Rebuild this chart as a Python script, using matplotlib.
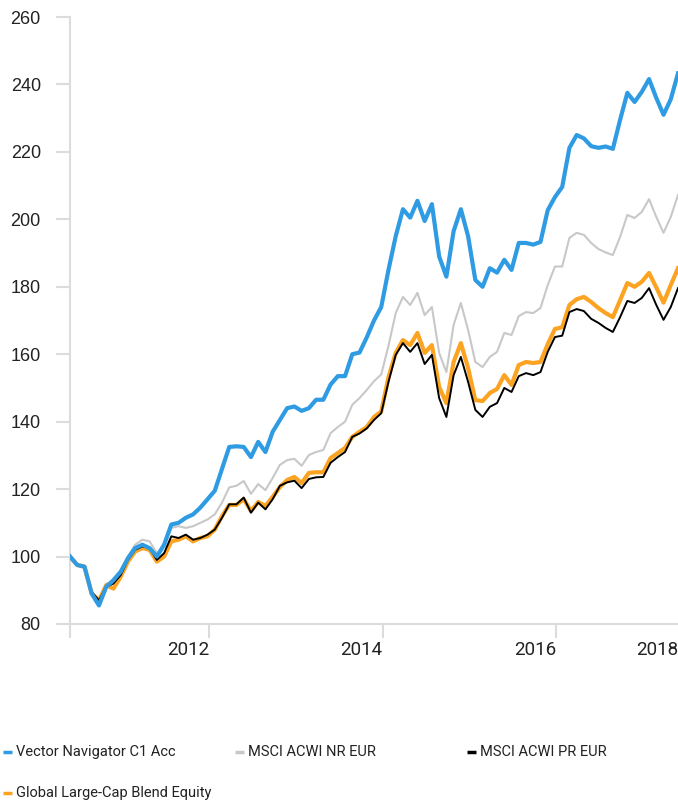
import matplotlib
matplotlib.use('Agg')
import matplotlib.pyplot as plt
from matplotlib.lines import Line2D
import numpy as np

# 数据: 月度增长 (起点=100)
fund = [100, 97.5, 97, 89, 85.5, 91, 93, 95.5, 99.5, 102.5,
        103.5, 102.5, 100, 103.5, 109.5, 110, 111.5, 112.5, 114.5, 117,
        119.5, 126, 132.5, 132.7, 132.5, 129.5, 134, 131, 137, 140.5,
        144, 144.5, 143.2, 144, 146.5, 146.5, 151, 153.5, 153.5, 160,
        160.5, 165, 170, 174, 185, 195, 203, 200.5, 205.5, 199.5,
        204.5, 189, 183, 196.5, 203, 195, 182, 180, 185.5, 184.2,
        188, 185, 193, 193, 192.5, 193.3, 202.7, 206.6, 209.6, 221.2,
        225, 224, 221.7, 221.2, 221.6, 220.9, 229.5, 237.5, 234.8, 237.8,
        241.6, 236, 231, 235.6, 243.3]
acwi_nr = [100, 97.5, 97, 89.5, 86.5, 92, 92.5, 95, 100, 103.5,
           105, 104.5, 101, 103, 108.5, 109, 108.5, 109, 110, 111,
           112.5, 116, 120.5, 121, 122.4, 118.6, 121.5, 119.7, 123.3, 127.2,
           128.6, 129, 126.9, 130.1, 131, 131.6, 136.6, 138.4, 140, 145,
           147, 149.4, 152, 154, 162.5, 172.2, 177, 174.6, 178.2, 171.6,
           174, 160.4, 154.7, 168.7, 175.2, 167.2, 157.7, 156.2, 159.2, 160.7,
           166.3, 165.7, 171.3, 172.5, 172.2, 173.7, 180.5, 186, 186, 194.5,
           196, 195.4, 193, 191.2, 190.2, 189.4, 194.8, 201.3, 200.4, 202.2,
           206, 200.7, 196, 200.7, 207.2]
acwi_pr = [100, 97.5, 97, 89.5, 87, 91, 92, 94.5, 99, 102,
           103, 102.5, 99, 101, 106, 105.5, 106.5, 105, 105.5, 106.5,
           108, 111.5, 115.5, 115.5, 117.5, 113, 116, 114, 117, 121,
           122, 122.5, 120.3, 123, 123.5, 123.6, 127.8, 129.5, 131, 135.5,
           136.5, 138, 140.5, 142.5, 151.8, 159.8, 163.3, 160.7, 163.3, 157.1,
           159.8, 147, 141.4, 153.8, 159.2, 151.8, 143.5, 141.4, 144.4, 145.5,
           150, 148.8, 153.5, 154.4, 153.8, 154.7, 160.7, 165.1, 165.5, 172.5,
           173.4, 172.8, 170.5, 169.3, 167.8, 166.6, 171, 175.8, 175.2, 176.7,
           179.6, 174.6, 170.2, 174, 179.6]
category = [100, 97.5, 97, 89, 87, 91.5, 90.5, 94, 98.5, 101.5,
            102.5, 102, 98.5, 100, 104.5, 105, 106, 104.5, 105.5, 106,
            108, 112, 115.3, 115.3, 117, 113.5, 116.2, 115, 117.7, 120.6,
            122.7, 123.6, 121.8, 124.8, 125, 125, 129.2, 130.7, 132.2, 135.5,
            137, 138.4, 141.4, 143, 153.2, 160.4, 164.2, 162.7, 166.3, 160.4,
            162.7, 150.3, 145.5, 157.7, 163.3, 155.9, 146.4, 146.1, 148.5, 149.7,
            153.8, 150.9, 156.8, 157.7, 157.4, 157.7, 163, 167.5, 168, 174.6,
            176.3, 177, 175.5, 173.7, 172.2, 171, 176, 181.1, 180, 181.5,
            184.1, 179.8, 175.3, 180.5, 185.5]

labels = ['Vector Navigator C1 Acc', 'MSCI ACWI NR EUR', 'MSCI ACWI PR EUR',
          'Global Large-Cap Blend Equity']
colors = ['#2f9be2', '#c8c8c8', '#000000', '#fca321']

year_ticks = [0, 19.2, 43.2, 67.2, 84]
year_labels = ['', '2012', '2014', '2016', '2018']
y_ticks = [80, 100, 120, 140, 160, 180, 200, 220, 240, 260]

narrow = ['Roboto', 'DejaVu Sans']
W, H = 678, 801

fig = plt.figure(figsize=(W / 100, H / 100), dpi=100)
ax = fig.add_axes([70 / W, 1 - 624 / H, (W - 70) / W, (624 - 17) / H])

x = np.arange(len(fund))
ax.plot(x, acwi_nr, color=colors[1], lw=1.5, zorder=2)
ax.plot(x, category, color=colors[3], lw=3.0, zorder=3)
ax.plot(x, acwi_pr, color=colors[2], lw=1.4, zorder=4)
ax.plot(x, fund, color=colors[0], lw=3.0, zorder=5)

ax.set_xlim(0, 84)
ax.set_ylim(80, 260)
ax.set_yticks(y_ticks)
ax.set_yticklabels([str(v) for v in y_ticks], family=['Liberation Sans', 'DejaVu Sans'])
ax.set_xticks(year_ticks)
ax.set_xticklabels(year_labels, family=narrow, fontsize=13.5, ha='right')
ax.xaxis.get_major_ticks()[-1].tick1line.set_visible(False)

for s in ['top', 'right']:
    ax.spines[s].set_visible(False)
for s in ['left', 'bottom']:
    ax.spines[s].set_color('#dcdcdc')
    ax.spines[s].set_linewidth(1.5)
ax.tick_params(axis='y', length=10, width=1.5, color='#dcdcdc', pad=11,
               labelsize=13, labelcolor='#222222')
ax.tick_params(axis='x', length=10, width=1.5, color='#dcdcdc', pad=2,
               labelcolor='#222222')

# 图例手动排布
legend_pos = [(3, 752), (235, 752), (467, 752), (3, 793)]
for (px, py), lab, c in zip(legend_pos, labels, colors):
    fig.add_artist(Line2D([px / W, (px + 9) / W], [1 - py / H, 1 - py / H],
                          color=c, lw=2.5, solid_capstyle='butt',
                          transform=fig.transFigure))
    fig.text((px + 13) / W, 1 - py / H, lab, family=narrow, fontsize=10.5,
             va='center', ha='left', color='#222222')

plt.savefig('out.png', dpi=100)
plt.close()
